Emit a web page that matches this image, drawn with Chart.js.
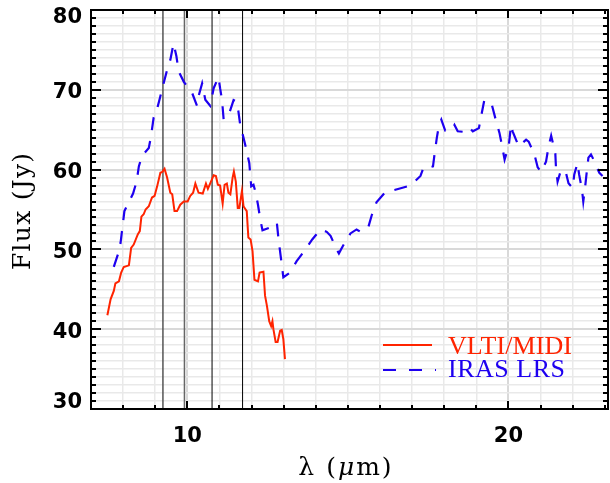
<!DOCTYPE html>
<html>
<head>
<meta charset="utf-8">
<script src="https://cdn.jsdelivr.net/npm/chart.js@4.4.1/dist/chart.umd.min.js"></script>
<style>
  html, body { margin: 0; padding: 0; background: #fff; }
  #spec { display: block; }
</style>
</head>
<body>
<canvas id="spec" width="610" height="483"></canvas>
<script>
// VLTI/MIDI spectrum (solid red)
const midiWave = [7.51, 7.61, 7.71, 7.76, 7.87, 7.94, 8.02, 8.18, 8.25, 8.33,
  8.46, 8.52, 8.57, 8.64, 8.70, 8.80, 8.90, 8.98, 9.06, 9.16,
  9.22, 9.29, 9.37, 9.47, 9.53, 9.60, 9.68, 9.78, 9.89, 10.01,
  10.09, 10.18, 10.25, 10.35, 10.48, 10.58, 10.64, 10.71, 10.82, 10.89,
  10.95, 11.02, 11.10, 11.16, 11.23, 11.28, 11.34, 11.41, 11.45, 11.51,
  11.57, 11.62, 11.70, 11.75, 11.80, 11.85, 11.90, 11.97, 12.03, 12.09,
  12.20, 12.25, 12.37, 12.42, 12.48, 12.55, 12.61, 12.65, 12.68, 12.75,
  12.81, 12.89, 12.94, 12.99, 13.04];
const midiFlux = [41.75, 43.75, 44.8, 45.75, 46.0, 47.1, 47.8, 48.0, 50.2, 50.6,
  51.9, 52.3, 54.1, 54.4, 55.0, 55.4, 56.5, 56.7, 57.9, 59.6,
  59.7, 60.1, 59.0, 57.1, 56.9, 54.8, 54.8, 55.6, 56.0, 56.0,
  56.7, 57.1, 58.25, 57.1, 57.0, 58.25, 57.6, 58.25, 59.3, 59.2,
  58.1, 58.0, 55.75, 58.1, 58.25, 57.1, 56.9, 59.0, 59.75, 58.5,
  55.2, 55.2, 57.3, 55.4, 55.1, 54.8, 51.5, 51.25, 49.8, 46.2,
  46.0, 47.1, 47.2, 44.2, 42.9, 41.0, 40.4, 41.0, 40.0, 38.4,
  38.4, 39.8, 39.9, 38.75, 36.25];

// IRAS LRS spectrum (dashed blue)
const lrsWave = [7.71, 7.84, 7.92, 8.04, 8.31, 8.42, 8.49, 8.59, 8.80, 8.87,
  8.95, 9.04, 9.16, 9.26, 9.37, 9.47, 9.57, 9.66, 9.73, 9.89,
  10.15, 10.30, 10.35, 10.46, 10.56, 10.71, 10.82, 10.97, 11.02, 11.08,
  11.13, 11.28, 11.44, 11.54, 11.59, 11.65, 11.75, 11.85, 11.93, 11.99,
  12.06, 12.13, 12.20, 12.27, 12.34, 12.61, 12.73, 12.79, 12.84, 12.92,
  12.99, 13.2, 13.4, 13.66, 13.89, 14.15, 14.34, 14.46, 14.65, 14.72,
  14.84, 15.08, 15.27, 15.39, 15.63, 15.74, 15.89, 16.15, 16.59, 16.95,
  17.26, 17.36, 17.44, 17.65, 17.70, 17.77, 17.83, 17.91, 18.03, 18.25,
  18.32, 18.42, 18.69, 18.79, 18.89, 19.08, 19.15, 19.25, 19.49, 19.62,
  19.72, 19.80, 19.88, 20.01, 20.08, 20.13, 20.32, 20.55, 20.63, 20.81,
  20.91, 21.02, 21.17, 21.25, 21.33, 21.46, 21.48, 21.53, 21.64, 21.79,
  21.87, 22.0, 22.05, 22.15, 22.2, 22.29, 22.33, 22.39, 22.43, 22.49,
  22.57, 22.62, 22.83, 22.93];
const lrsFlux = [47.8, 49.4, 50.8, 54.8, 57.0, 58.5, 60.4, 61.75, 62.7, 64.2,
  66.5, 67.3, 69.2, 70.8, 72.5, 73.75, 75.8, 74.2, 72.3, 71.0,
  69.6, 68.0, 69.2, 70.8, 68.75, 68.0, 70.2, 71.6, 70.2, 68.75,
  66.3, 66.75, 68.7, 68.5, 67.3, 65.5, 64.0, 62.3, 60.8, 57.9,
  58.1, 57.1, 55.6, 53.8, 52.4, 52.8, 53.4, 53.25, 51.25, 48.75,
  46.5, 47.1, 48.5, 49.9, 51.25, 52.5, 52.2, 51.7, 50.0, 49.5,
  50.4, 52.0, 52.5, 52.2, 52.7, 54.25, 55.9, 57.1, 57.6, 58.0,
  59.2, 60.3, 60.2, 60.4, 62.0, 64.0, 65.4, 66.25, 64.9, 65.0,
  65.6, 64.8, 64.7, 65.2, 64.8, 65.2, 66.7, 68.75, 68.0, 66.0,
  64.6, 63.0, 61.25, 63.0, 65.6, 64.8, 62.9, 63.75, 63.5, 61.9,
  60.3, 59.7, 61.0, 62.9, 64.25, 62.0, 60.2, 58.5, 60.0, 59.6,
  58.3, 57.7, 59.4, 60.8, 59.4, 57.5, 56.0, 57.9, 59.4, 61.5,
  61.9, 61.5, 59.6, 59.2];

// vertical marker lines (wavelengths in micron)
const markWave = [9.24, 9.91, 10.77, 11.72];
const markColor = ['#555', '#666', '#000', '#000'];

const xMin = 7, xMax = 23.1;
const yMin = 30, yMax = 80;
const xLabels = [10, 20];
const yLabels = [30, 40, 50, 60, 70, 80];

const redCol = 'rgb(255,36,0)';
const blueCol = 'rgb(30,0,240)';

const toPts = (xs, ys) => xs.map((x, i) => ({ x, y: ys[i] }));

const markSets = markWave.map((w, i) => ({
  data: [{ x: w, y: yMin }, { x: w, y: yMax }],
  borderColor: markColor[i],
  borderWidth: i < 2 ? 1.5 : 1,
  pointRadius: 0
}));

// text squeezed/stretched to a given width with letter spacing
function fitText(ctx, text, width, x, y) {
  ctx.letterSpacing = '0px';
  const w = ctx.measureText(text).width;
  const ls = (width - w) / Math.max(1, text.length - 1);
  ctx.letterSpacing = ls + 'px';
  ctx.fillText(text, x, y);
  ctx.letterSpacing = '0px';
}

// frame, inward ticks, y labels, titles and legend
const decor = {
  id: 'decor',
  afterDatasetsDraw(chart) {
    const { ctx, chartArea: a, scales: { x, y } } = chart;
    ctx.save();
    ctx.strokeStyle = '#000';
    ctx.lineWidth = 2;
    ctx.beginPath();
    for (let v = 8; v <= 23; v++) {
      const px = Math.round(x.getPixelForValue(v));
      const len = v % 10 === 0 ? 8 : 4;
      ctx.moveTo(px, a.bottom); ctx.lineTo(px, a.bottom - len);
      ctx.moveTo(px, a.top); ctx.lineTo(px, a.top + len);
    }
    for (let v = yMin + 1; v < yMax; v++) {
      const py = Math.round(y.getPixelForValue(v));
      const len = v % 10 === 0 ? 10 : 5;
      ctx.moveTo(a.left, py); ctx.lineTo(a.left + len, py);
      ctx.moveTo(a.right, py); ctx.lineTo(a.right - len, py);
    }
    ctx.stroke();
    ctx.strokeRect(a.left, a.top, a.right - a.left, a.bottom - a.top);

    // y tick labels, kept inside the frame height
    ctx.fillStyle = '#000';
    ctx.font = 'bold 21px "DejaVu Sans"';
    ctx.textAlign = 'right';
    ctx.textBaseline = 'middle';
    yLabels.forEach(v => {
      const py = Math.min(a.bottom - 6, Math.max(a.top + 8, y.getPixelForValue(v) + 3));
      ctx.fillText(String(v), a.left - 9, py);
    });

    // legend
    ctx.lineWidth = 2;
    ctx.strokeStyle = redCol;
    ctx.beginPath(); ctx.moveTo(383, 345); ctx.lineTo(432, 345); ctx.stroke();
    ctx.strokeStyle = blueCol;
    ctx.setLineDash([13, 13]);
    ctx.beginPath(); ctx.moveTo(383, 370); ctx.lineTo(436, 370); ctx.stroke();
    ctx.setLineDash([]);
    ctx.font = '26px "Liberation Serif"';
    ctx.textAlign = 'left';
    ctx.fillStyle = redCol;
    fitText(ctx, 'VLTI/MIDI', 124, 448, 347);
    ctx.fillStyle = blueCol;
    fitText(ctx, 'IRAS LRS', 117, 448, 370);

    // y title
    ctx.fillStyle = '#000';
    ctx.save();
    ctx.translate(23, 270);
    ctx.rotate(-Math.PI / 2);
    ctx.font = '25px "DejaVu Serif"';
    ctx.textAlign = 'left';
    fitText(ctx, 'Flux (Jy)', 117, 0, 0);
    ctx.restore();

    // x title with italic mu
    const parts = [['λ (', '25px "DejaVu Serif"'], ['μ', 'italic 25px "DejaVu Serif"'], ['m)', '25px "DejaVu Serif"']];
    ctx.textAlign = 'left';
    ctx.letterSpacing = '2px';
    let total = 0;
    parts.forEach(p => { ctx.font = p[1]; total += ctx.measureText(p[0]).width; });
    let cx = 346 - total / 2;
    parts.forEach(p => { ctx.font = p[1]; ctx.fillText(p[0], cx, 468); cx += ctx.measureText(p[0]).width; });
    ctx.letterSpacing = '0px';
    ctx.restore();
  }
};

const gridCol = c => (c.tick && c.tick.value % 10 === 0) ? '#d9d9d9' : '#e9e9e9';
const gridW = c => (c.tick && c.tick.value % 10 === 0) ? 2 : 1.5;
const noPad = s => { s.paddingLeft = 0; s.paddingRight = 0; s.paddingTop = 0; s.paddingBottom = 0; };

new Chart(document.getElementById('spec'), {
  type: 'line',
  data: {
    datasets: [
      {
        label: 'VLTI/MIDI',
        data: toPts(midiWave, midiFlux),
        borderColor: redCol,
        borderWidth: 2,
        pointRadius: 0,
        tension: 0
      },
      {
        label: 'IRAS LRS',
        data: toPts(lrsWave, lrsFlux),
        borderColor: blueCol,
        borderWidth: 2.2,
        borderDash: [13, 11],
        pointRadius: 0,
        tension: 0
      },
      ...markSets
    ]
  },
  options: {
    responsive: false,
    devicePixelRatio: 1,
    animation: false,
    layout: { padding: { left: 0, right: 2, top: 10, bottom: 0 } },
    plugins: { legend: { display: false }, tooltip: { enabled: false } },
    scales: {
      x: {
        type: 'linear',
        min: xMin,
        max: xMax,
        afterFit: s => { s.height = 74; noPad(s); },
        grid: { color: gridCol, lineWidth: gridW, drawTicks: false },
        border: { display: false },
        ticks: {
          stepSize: 1,
          autoSkip: false,
          maxRotation: 0,
          padding: 15,
          color: '#000',
          font: { family: 'DejaVu Sans', size: 21, weight: 'bold' },
          callback: v => xLabels.includes(v) ? String(v) : ''
        }
      },
      y: {
        min: yMin,
        max: yMax,
        afterFit: s => { s.width = 91; noPad(s); },
        grid: { color: gridCol, lineWidth: gridW, drawTicks: false },
        border: { display: false },
        ticks: {
          stepSize: 1,
          autoSkip: false,
          padding: 9,
          font: { family: 'DejaVu Sans', size: 21, weight: 'bold' },
          callback: () => ''
        }
      }
    }
  },
  plugins: [decor]
});
</script>
</body>
</html>
